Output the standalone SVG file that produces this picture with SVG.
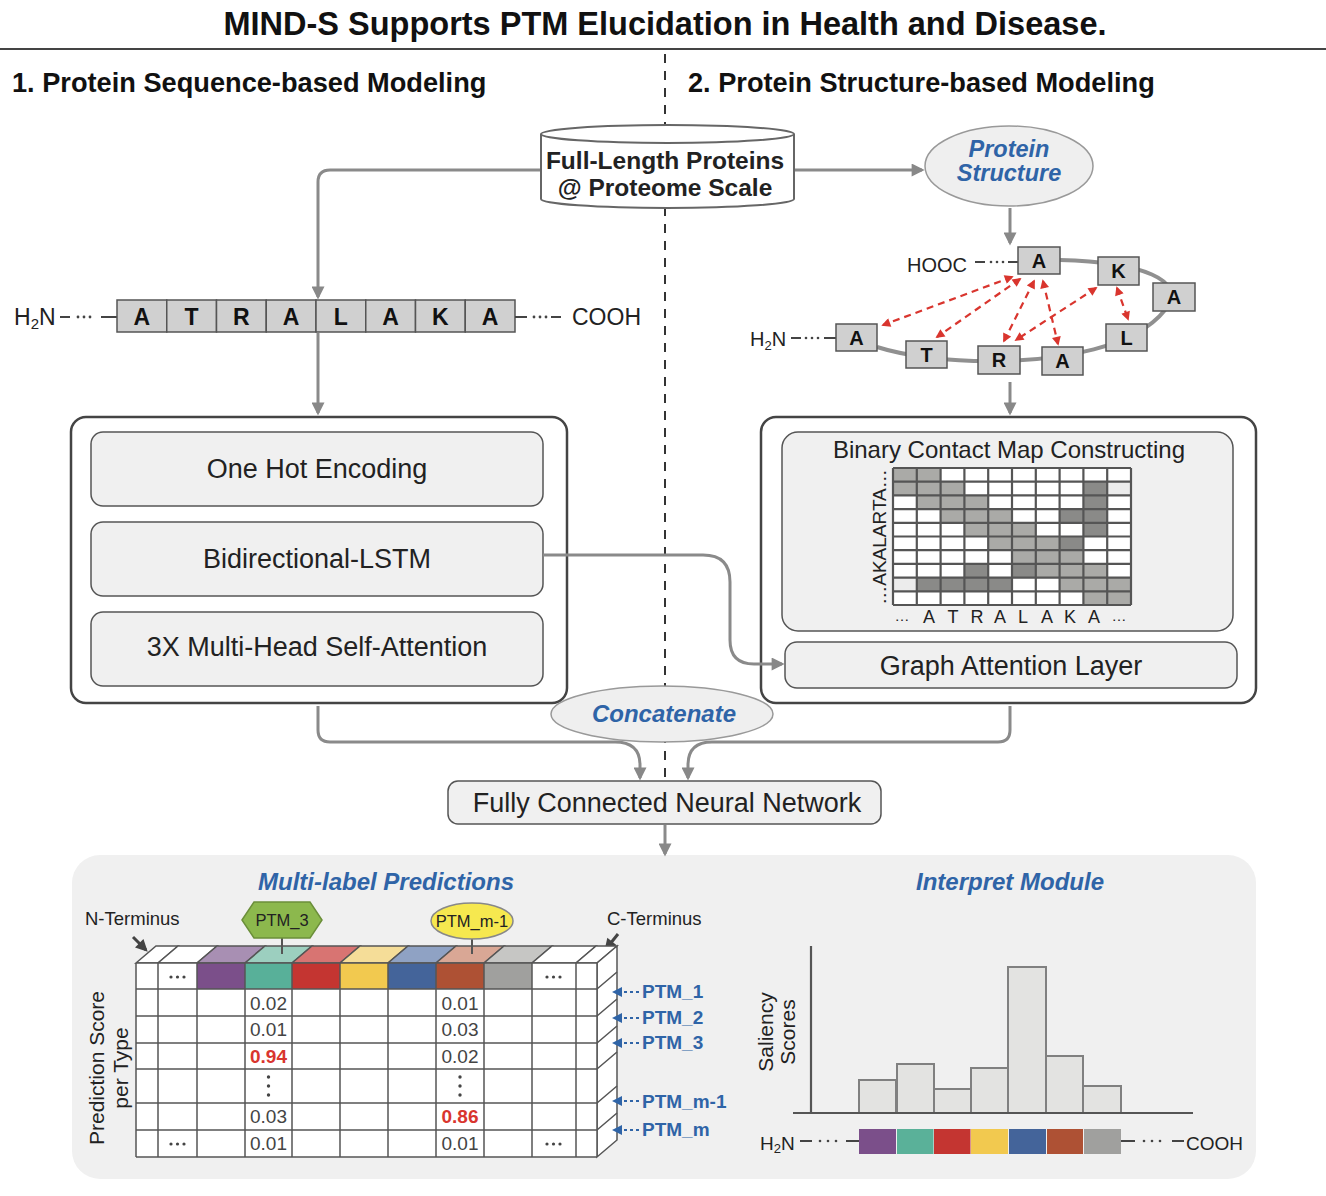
<svg xmlns="http://www.w3.org/2000/svg" width="1326" height="1196" viewBox="0 0 1326 1196">
<defs>
<style>
text{font-family:"Liberation Sans",Arial,sans-serif;fill:#222}
.title{font-size:32.5px;font-weight:bold;fill:#111}
.head{font-size:27.2px;font-weight:bold;fill:#111}
.bi{font-weight:bold;font-style:italic;fill:#2f64a7}
.mid{text-anchor:middle}
.conn{fill:none;stroke:#8a8a8a;stroke-width:3}
.inner{fill:#f0f0f0;stroke:#555;stroke-width:1.5}
.big{fill:#fff;stroke:#444;stroke-width:2.5}
.aa{fill:#d0d0d0;stroke:#555;stroke-width:1.5}
.aat{font-size:23px;font-weight:bold;fill:#111;text-anchor:middle}
.sat{font-size:20px;font-weight:bold;fill:#111;text-anchor:middle}
.lbl{font-size:27px;fill:#222;text-anchor:middle}
.red{fill:none;stroke:#d9352e;stroke-width:2.2;stroke-dasharray:7,5}
.grid{fill:none;stroke:#555;stroke-width:2.2}
.tl{fill:none;stroke:#555;stroke-width:1.5}
.val{font-size:19px;fill:#444;text-anchor:middle}
.hot{font-size:19px;font-weight:bold;fill:#d9352e;text-anchor:middle}
.ptm{font-size:19px;font-weight:bold;fill:#2f64a7}
.bar{fill:#e3e3e1;stroke:#808080;stroke-width:2}
.L{fill:#aaaaa7}.D{fill:#8a8a88}.E{fill:#ececec}
</style>
<marker id="ag" viewBox="0 0 10 10" refX="8" refY="5" markerWidth="14" markerHeight="13" markerUnits="userSpaceOnUse" orient="auto"><path d="M0,0 L10,5 L0,10 z" fill="#888"/></marker>
<marker id="ar" viewBox="0 0 10 10" refX="8" refY="5" markerWidth="10" markerHeight="9" markerUnits="userSpaceOnUse" orient="auto-start-reverse"><path d="M0,0 L10,5 L0,10 z" fill="#d9352e"/></marker>
<marker id="ak" viewBox="0 0 10 10" refX="8" refY="5" markerWidth="13" markerHeight="12" markerUnits="userSpaceOnUse" orient="auto"><path d="M0,0 L10,5 L0,10 z" fill="#444"/></marker>
</defs>
<rect width="1326" height="1196" fill="#fff"/>

<!-- header -->
<text class="title mid" x="665" y="35">MIND-S Supports PTM Elucidation in Health and Disease.</text>
<line x1="0" y1="49" x2="1326" y2="49" stroke="#444" stroke-width="2"/>
<line x1="665" y1="54" x2="665" y2="785" stroke="#333" stroke-width="2" stroke-dasharray="9,8"/>
<text class="head" x="12" y="92">1. Protein Sequence-based Modeling</text>
<text class="head" x="688" y="92">2. Protein Structure-based Modeling</text>

<!-- bottom panel -->
<rect x="72" y="855" width="1184" height="324" rx="28" fill="#f0f0f0"/>

<!-- sequence model box -->
<g id="sequence-model">
<rect class="big" x="71" y="417" width="496" height="286" rx="15"/>
<rect class="inner" x="91" y="432" width="452" height="74" rx="12"/>
<text class="lbl" x="317" y="478">One Hot Encoding</text>
<rect class="inner" x="91" y="522" width="452" height="74" rx="12"/>
<text class="lbl" x="317" y="568">Bidirectional-LSTM</text>
<rect class="inner" x="91" y="612" width="452" height="74" rx="12"/>
<text class="lbl" x="317" y="656">3X Multi-Head Self-Attention</text>
</g>

<!-- structure model box -->
<g id="structure-model">
<rect class="big" x="761" y="417" width="495" height="286" rx="15"/>
<rect class="inner" x="782" y="432" width="451" height="199" rx="16"/>
<text class="mid" x="1009" y="458" font-size="24">Binary Contact Map Constructing</text>
<rect x="893" y="468" width="238" height="137" fill="#fff"/>
<g>
<rect class="L" x="893" y="468" width="23.8" height="13.7"/><rect class="L" x="916.8" y="468" width="23.8" height="13.7"/>
<rect class="L" x="893" y="481.7" width="23.8" height="13.7"/><rect class="L" x="916.8" y="481.7" width="23.8" height="13.7"/><rect class="L" x="940.6" y="481.7" width="23.8" height="13.7"/><rect class="D" x="1083.4" y="481.7" width="23.8" height="13.7"/><rect class="E" x="1107.2" y="481.7" width="23.8" height="13.7"/>
<rect class="L" x="916.8" y="495.4" width="23.8" height="13.7"/><rect class="L" x="940.6" y="495.4" width="23.8" height="13.7"/><rect class="L" x="964.4" y="495.4" width="23.8" height="13.7"/><rect class="D" x="1083.4" y="495.4" width="23.8" height="13.7"/>
<rect class="L" x="940.6" y="509.1" width="23.8" height="13.7"/><rect class="L" x="964.4" y="509.1" width="23.8" height="13.7"/><rect class="L" x="988.2" y="509.1" width="23.8" height="13.7"/><rect class="D" x="1059.6" y="509.1" width="23.8" height="13.7"/><rect class="D" x="1083.4" y="509.1" width="23.8" height="13.7"/>
<rect class="L" x="964.4" y="522.8" width="23.8" height="13.7"/><rect class="L" x="988.2" y="522.8" width="23.8" height="13.7"/><rect class="L" x="1012" y="522.8" width="23.8" height="13.7"/><rect class="D" x="1083.4" y="522.8" width="23.8" height="13.7"/>
<rect class="L" x="988.2" y="536.5" width="23.8" height="13.7"/><rect class="L" x="1012" y="536.5" width="23.8" height="13.7"/><rect class="L" x="1035.8" y="536.5" width="23.8" height="13.7"/><rect class="D" x="1059.6" y="536.5" width="23.8" height="13.7"/>
<rect class="L" x="1012" y="550.2" width="23.8" height="13.7"/><rect class="L" x="1035.8" y="550.2" width="23.8" height="13.7"/><rect class="L" x="1059.6" y="550.2" width="23.8" height="13.7"/>
<rect class="D" x="964.4" y="563.9" width="23.8" height="13.7"/><rect class="D" x="1012" y="563.9" width="23.8" height="13.7"/><rect class="L" x="1035.8" y="563.9" width="23.8" height="13.7"/><rect class="L" x="1059.6" y="563.9" width="23.8" height="13.7"/><rect class="L" x="1083.4" y="563.9" width="23.8" height="13.7"/>
<rect class="E" x="893" y="577.6" width="23.8" height="13.7"/><rect class="D" x="916.8" y="577.6" width="23.8" height="13.7"/><rect class="D" x="940.6" y="577.6" width="23.8" height="13.7"/><rect class="D" x="964.4" y="577.6" width="23.8" height="13.7"/><rect class="D" x="988.2" y="577.6" width="23.8" height="13.7"/><rect class="L" x="1059.6" y="577.6" width="23.8" height="13.7"/><rect class="L" x="1083.4" y="577.6" width="23.8" height="13.7"/><rect class="L" x="1107.2" y="577.6" width="23.8" height="13.7"/>
<rect class="L" x="1083.4" y="591.3" width="23.8" height="13.7"/><rect class="L" x="1107.2" y="591.3" width="23.8" height="13.7"/>
</g>
<path class="grid" d="M893,468V605M916.8,468V605M940.6,468V605M964.4,468V605M988.2,468V605M1012,468V605M1035.8,468V605M1059.6,468V605M1083.4,468V605M1107.2,468V605M1131,468V605M893,468H1131M893,481.7H1131M893,495.4H1131M893,509.1H1131M893,522.8H1131M893,536.5H1131M893,550.2H1131M893,563.9H1131M893,577.6H1131M893,591.3H1131M893,605H1131"/>
<text class="mid" x="0" y="0" font-size="19" fill="#333" transform="translate(886,537) rotate(-90)">…AKALARTA…</text>
<text class="mid" x="902" y="621" font-size="15" fill="#333">…</text>
<text class="mid" x="929 953 977 1000 1023 1047 1070 1094" y="623" font-size="18" fill="#333">ATRALAKA</text>
<text class="mid" x="1119" y="621" font-size="15" fill="#333">…</text>
<rect class="inner" x="785" y="642" width="452" height="46" rx="12"/>
<text class="lbl" x="1011" y="675">Graph Attention Layer</text>
</g>

<!-- connectors -->
<g id="connectors">
<path class="conn" d="M541,170 H330 Q318,170 318,182 V297" marker-end="url(#ag)"/>
<path class="conn" d="M794,170 H922" marker-end="url(#ag)"/>
<path class="conn" d="M1010,208 V243" marker-end="url(#ag)"/>
<path class="conn" d="M318,333 V413" marker-end="url(#ag)"/>
<path class="conn" d="M1010,382 V413" marker-end="url(#ag)"/>
<path class="conn" d="M543,555 H703 Q730,555 730,582 V640 Q730,664 754,664 H782" marker-end="url(#ag)"/>
<path class="conn" d="M318,706 V730 Q318,742 330,742 H615 Q640,742 640,765 V778" marker-end="url(#ag)"/>
<path class="conn" d="M1010,706 V730 Q1010,742 998,742 H712 Q688,742 688,765 V778" marker-end="url(#ag)"/>
<path class="conn" d="M665,825 V854" marker-end="url(#ag)"/>
</g>

<!-- cylinder -->
<g id="proteins">
<path d="M541,134 V199 A126.5,9 0 0 0 794,199 V134 A126.5,9 0 0 0 541,134 Z" fill="#fff" stroke="#666" stroke-width="2"/>
<path d="M541,134 A126.5,9 0 0 0 794,134" fill="none" stroke="#666" stroke-width="2"/>
<text class="mid" x="665" y="169" font-size="24.5" font-weight="bold" fill="#111">Full-Length Proteins</text>
<text class="mid" x="665" y="196" font-size="24.5" font-weight="bold" fill="#111">@ Proteome Scale</text>
</g>

<g id="protein-structure">
<ellipse cx="1009" cy="166" rx="84" ry="40" fill="#efefef" stroke="#999" stroke-width="1.5"/>
<text class="bi mid" x="1009" y="157" font-size="23.5">Protein</text>
<text class="bi mid" x="1009" y="181" font-size="23.5">Structure</text>
</g>

<!-- sequence -->
<g id="sequence">
<text x="14" y="325" font-size="23">H<tspan font-size="15" dy="4">2</tspan><tspan dy="-4">N</tspan></text>
<line x1="60" y1="317" x2="70" y2="317" stroke="#444" stroke-width="2"/>
<circle cx="78" cy="317" r="1.4" fill="#444"/><circle cx="84" cy="317" r="1.4" fill="#444"/><circle cx="90" cy="317" r="1.4" fill="#444"/>
<line x1="101" y1="317" x2="117" y2="317" stroke="#444" stroke-width="2"/>
<rect class="aa" x="117" y="300" width="49.75" height="32"/>
<rect class="aa" x="166.75" y="300" width="49.75" height="32"/>
<rect class="aa" x="216.5" y="300" width="49.75" height="32"/>
<rect class="aa" x="266.25" y="300" width="49.75" height="32"/>
<rect class="aa" x="316" y="300" width="49.75" height="32"/>
<rect class="aa" x="365.75" y="300" width="49.75" height="32"/>
<rect class="aa" x="415.5" y="300" width="49.75" height="32"/>
<rect class="aa" x="465.25" y="300" width="49.75" height="32"/>
<text class="aat" x="141.9 191.6 241.4 291.1 340.9 390.6 440.4 490.1" y="325">ATRALAKA</text>
<line x1="515" y1="317" x2="527" y2="317" stroke="#444" stroke-width="2"/>
<circle cx="534" cy="317" r="1.4" fill="#444"/><circle cx="540" cy="317" r="1.4" fill="#444"/><circle cx="546" cy="317" r="1.4" fill="#444"/>
<line x1="551" y1="317" x2="561" y2="317" stroke="#444" stroke-width="2"/>
<text x="572" y="325" font-size="23">COOH</text>
</g>

<!-- 3D structure -->
<g id="structure-graph">
<path d="M877,347 C905,356 950,362 1000,361 C1060,360 1135,348 1165,310 C1190,280 1140,262 1060,260" fill="none" stroke="#909090" stroke-width="4"/>
<text x="907" y="272" font-size="20">HOOC</text>
<line x1="975" y1="262" x2="985" y2="262" stroke="#444" stroke-width="2"/>
<circle cx="991" cy="262" r="1.3" fill="#444"/><circle cx="997" cy="262" r="1.3" fill="#444"/><circle cx="1003" cy="262" r="1.3" fill="#444"/>
<line x1="1008" y1="262" x2="1018" y2="262" stroke="#444" stroke-width="2"/>
<text x="750" y="346" font-size="20">H<tspan font-size="13" dy="4">2</tspan><tspan dy="-4">N</tspan></text>
<line x1="791" y1="338" x2="801" y2="338" stroke="#444" stroke-width="2"/>
<circle cx="806" cy="338" r="1.3" fill="#444"/><circle cx="812" cy="338" r="1.3" fill="#444"/><circle cx="818" cy="338" r="1.3" fill="#444"/>
<line x1="824" y1="338" x2="836" y2="338" stroke="#444" stroke-width="2"/>
<rect class="aa" x="1018" y="247" width="42" height="27"/><text class="sat" x="1039" y="268">A</text>
<rect class="aa" x="1098" y="257" width="41" height="28"/><text class="sat" x="1118.5" y="278">K</text>
<rect class="aa" x="1153" y="283" width="42" height="28"/><text class="sat" x="1174" y="304">A</text>
<rect class="aa" x="1106" y="324" width="41" height="27"/><text class="sat" x="1126.5" y="345">L</text>
<rect class="aa" x="1042" y="347" width="41" height="28"/><text class="sat" x="1062.5" y="368">A</text>
<rect class="aa" x="978" y="346" width="42" height="28"/><text class="sat" x="999" y="367">R</text>
<rect class="aa" x="906" y="341" width="41" height="27"/><text class="sat" x="926.5" y="362">T</text>
<rect class="aa" x="836" y="324" width="41" height="27"/><text class="sat" x="856.5" y="345">A</text>
<line class="red" x1="1012" y1="277" x2="883" y2="325" marker-start="url(#ar)" marker-end="url(#ar)"/>
<line class="red" x1="1020" y1="279" x2="937" y2="337" marker-start="url(#ar)" marker-end="url(#ar)"/>
<line class="red" x1="1034" y1="281" x2="1004" y2="341" marker-start="url(#ar)" marker-end="url(#ar)"/>
<line class="red" x1="1043" y1="281" x2="1058" y2="344" marker-start="url(#ar)" marker-end="url(#ar)"/>
<line class="red" x1="1096" y1="288" x2="1016" y2="340" marker-start="url(#ar)" marker-end="url(#ar)"/>
<line class="red" x1="1117" y1="288" x2="1128" y2="319" marker-start="url(#ar)" marker-end="url(#ar)"/>
</g>

<!-- concatenate -->
<g id="concatenate">
<ellipse cx="662" cy="714" rx="111" ry="28" fill="#efefef" stroke="#999" stroke-width="1.5"/>
<text class="bi mid" x="664" y="722" font-size="24">Concatenate</text>
</g>

<!-- FC -->
<g id="fully-connected">
<rect class="inner" x="448" y="781" width="433" height="43" rx="10"/>
<text class="lbl" x="667" y="812">Fully Connected Neural Network</text>
</g>

<!-- multi-label predictions -->
<g id="multi-label-predictions">
<text class="bi mid" x="386" y="890" font-size="24">Multi-label Predictions</text>
<text x="85" y="925" font-size="18.5" fill="#333">N-Terminus</text>
<line x1="133" y1="937" x2="146" y2="950" stroke="#444" stroke-width="3" marker-end="url(#ak)"/>
<text x="607" y="925" font-size="18.5" fill="#333">C-Terminus</text>
<line x1="618" y1="934" x2="606" y2="949" stroke="#444" stroke-width="3" marker-end="url(#ak)"/>
<polygon points="136,963 156,946 178,946 158,963" fill="#fff" stroke="#555" stroke-width="1.5"/>
<polygon points="158,963 178,946 217,946 197,963" fill="#fff" stroke="#555" stroke-width="1.5"/>
<polygon points="197,963 217,946 265,946 245,963" fill="#a88fb3" stroke="#555" stroke-width="1.5"/>
<polygon points="245,963 265,946 312,946 292,963" fill="#9ccfbf" stroke="#555" stroke-width="1.5"/>
<polygon points="292,963 312,946 360,946 340,963" fill="#d87472" stroke="#555" stroke-width="1.5"/>
<polygon points="340,963 360,946 408,946 388,963" fill="#f5dd98" stroke="#555" stroke-width="1.5"/>
<polygon points="388,963 408,946 456,946 436,963" fill="#8fa2c4" stroke="#555" stroke-width="1.5"/>
<polygon points="436,963 456,946 504,946 484,963" fill="#d9a795" stroke="#555" stroke-width="1.5"/>
<polygon points="484,963 504,946 552,946 532,963" fill="#c6c6c4" stroke="#555" stroke-width="1.5"/>
<polygon points="532,963 552,946 596,946 576,963" fill="#fff" stroke="#555" stroke-width="1.5"/>
<polygon points="576,963 596,946 617,946 597,963" fill="#fff" stroke="#555" stroke-width="1.5"/>
<polygon points="597,963 617,946 617,1140 597,1157" fill="#fff" stroke="#555" stroke-width="1.5"/>
<path class="tl" d="M597,989L617,972M597,1016L617,999M597,1043L617,1026M597,1069L617,1052M597,1103L617,1086M597,1130L617,1113"/>
<rect x="136" y="963" width="461" height="194" fill="#fff"/>
<rect x="197" y="963" width="48" height="26" fill="#7b4f8a"/>
<rect x="245" y="963" width="47" height="26" fill="#58b099"/>
<rect x="292" y="963" width="48" height="26" fill="#c43531"/>
<rect x="340" y="963" width="48" height="26" fill="#f2c94f"/>
<rect x="388" y="963" width="48" height="26" fill="#44649a"/>
<rect x="436" y="963" width="48" height="26" fill="#ae5134"/>
<rect x="484" y="963" width="48" height="26" fill="#a0a09e"/>
<path class="tl" d="M136,963H597M136,989H597M136,1016H597M136,1043H597M136,1069H597M136,1103H597M136,1130H597M136,1157H597M136,963V1157M158,963V1157M197,963V1157M245,963V1157M292,963V1157M340,963V1157M388,963V1157M436,963V1157M484,963V1157M532,963V1157M576,963V1157M597,963V1157"/>
<line x1="282" y1="938" x2="282" y2="954" stroke="#555" stroke-width="2"/>
<line x1="472" y1="939" x2="472" y2="954" stroke="#555" stroke-width="2"/>
<polygon points="242,920 254,902 310,902 322,920 310,938 254,938" fill="#8cb84d" stroke="#6b8f3a" stroke-width="1.5"/>
<text class="mid" x="282" y="926" font-size="16.5" fill="#111">PTM_3</text>
<ellipse cx="472" cy="921" rx="41" ry="18" fill="#f6e84f" stroke="#888" stroke-width="1.5"/>
<text class="mid" x="472" y="927" font-size="16.5" fill="#111">PTM_m-1</text>
<g fill="#444">
<circle cx="171" cy="977" r="1.6"/><circle cx="177.5" cy="977" r="1.6"/><circle cx="184" cy="977" r="1.6"/>
<circle cx="547" cy="977" r="1.6"/><circle cx="553.5" cy="977" r="1.6"/><circle cx="560" cy="977" r="1.6"/>
<circle cx="171" cy="1144" r="1.6"/><circle cx="177.5" cy="1144" r="1.6"/><circle cx="184" cy="1144" r="1.6"/>
<circle cx="547" cy="1144" r="1.6"/><circle cx="553.5" cy="1144" r="1.6"/><circle cx="560" cy="1144" r="1.6"/>
<circle cx="268.5" cy="1077" r="1.7"/><circle cx="268.5" cy="1086" r="1.7"/><circle cx="268.5" cy="1095" r="1.7"/>
<circle cx="460" cy="1077" r="1.7"/><circle cx="460" cy="1086" r="1.7"/><circle cx="460" cy="1095" r="1.7"/>
</g>
<text class="val" x="268.5" y="1010">0.02</text>
<text class="val" x="268.5" y="1036">0.01</text>
<text class="hot" x="268.5" y="1063">0.94</text>
<text class="val" x="268.5" y="1123">0.03</text>
<text class="val" x="268.5" y="1150">0.01</text>
<text class="val" x="460" y="1010">0.01</text>
<text class="val" x="460" y="1036">0.03</text>
<text class="val" x="460" y="1063">0.02</text>
<text class="hot" x="460" y="1123">0.86</text>
<text class="val" x="460" y="1150">0.01</text>
<text class="mid" font-size="21" fill="#333" transform="translate(104,1068) rotate(-90)">Prediction Score</text>
<text class="mid" font-size="21" fill="#333" transform="translate(128,1068) rotate(-90)">per Type</text>
<g fill="#2f64a7" stroke="none">
<polygon points="612,992 622,987 622,997"/><polygon points="612,1018 622,1013 622,1023"/><polygon points="612,1043 622,1038 622,1048"/><polygon points="612,1101 622,1096 622,1106"/><polygon points="612,1130 622,1125 622,1135"/>
</g>
<path d="M624,992H639M624,1018H639M624,1043H639M624,1101H639M624,1130H639" stroke="#2f64a7" stroke-width="2.2" stroke-dasharray="3,3"/>
<text class="ptm" x="642" y="998">PTM_1</text>
<text class="ptm" x="642" y="1024">PTM_2</text>
<text class="ptm" x="642" y="1049">PTM_3</text>
<text class="ptm" x="642" y="1108">PTM_m-1</text>
<text class="ptm" x="642" y="1136">PTM_m</text>
</g>

<!-- interpret module -->
<g id="interpret-module">
<text class="bi mid" x="1010" y="890" font-size="24">Interpret Module</text>
<text class="mid" font-size="21" fill="#333" transform="translate(773,1032) rotate(-90)">Saliency</text>
<text class="mid" font-size="21" fill="#333" transform="translate(795,1032) rotate(-90)">Scores</text>
<rect class="bar" x="859" y="1080" width="37" height="33"/>
<rect class="bar" x="897" y="1064" width="37" height="49"/>
<rect class="bar" x="934" y="1089" width="37" height="24"/>
<rect class="bar" x="971" y="1068" width="37" height="45"/>
<rect class="bar" x="1008" y="967" width="38" height="146"/>
<rect class="bar" x="1046" y="1056" width="37" height="57"/>
<rect class="bar" x="1083" y="1086" width="38" height="27"/>
<line x1="811" y1="946" x2="811" y2="1113" stroke="#555" stroke-width="2.2"/>
<line x1="793" y1="1113" x2="1193" y2="1113" stroke="#555" stroke-width="2.2"/>
<rect x="859" y="1129" width="37" height="25" fill="#7b4f8a"/>
<rect x="897" y="1129" width="36.5" height="25" fill="#5ab199"/>
<rect x="934" y="1129" width="36.5" height="25" fill="#c43531"/>
<rect x="971" y="1129" width="37" height="25" fill="#f2c94f"/>
<rect x="1009" y="1129" width="37" height="25" fill="#44649a"/>
<rect x="1047" y="1129" width="36" height="25" fill="#ae5134"/>
<rect x="1084" y="1129" width="37" height="25" fill="#a0a09e"/>
<text x="760" y="1150" font-size="19" fill="#333">H<tspan font-size="13" dy="3">2</tspan><tspan dy="-3">N</tspan></text>
<line x1="800" y1="1141" x2="812" y2="1141" stroke="#444" stroke-width="2"/>
<circle cx="820" cy="1141" r="1.3" fill="#444"/><circle cx="828" cy="1141" r="1.3" fill="#444"/><circle cx="836" cy="1141" r="1.3" fill="#444"/>
<line x1="846" y1="1141" x2="859" y2="1141" stroke="#444" stroke-width="2"/>
<line x1="1121" y1="1141" x2="1135" y2="1141" stroke="#444" stroke-width="2"/>
<circle cx="1144" cy="1141" r="1.3" fill="#444"/><circle cx="1152" cy="1141" r="1.3" fill="#444"/><circle cx="1160" cy="1141" r="1.3" fill="#444"/>
<line x1="1172" y1="1141" x2="1184" y2="1141" stroke="#444" stroke-width="2"/>
<text x="1186" y="1150" font-size="19" fill="#333">COOH</text>
</g>
</svg>
